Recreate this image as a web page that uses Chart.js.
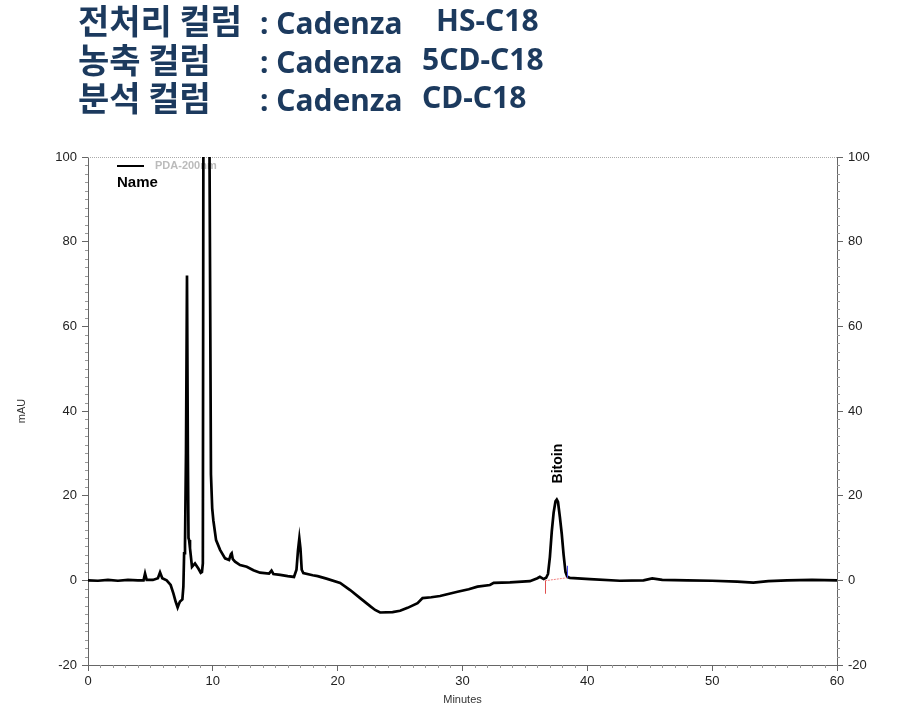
<!DOCTYPE html>
<html>
<head>
<meta charset="utf-8">
<script src="https://cdn.jsdelivr.net/npm/chart.js@4"></script>
<style>
html, body { margin: 0; padding: 0; background: #fff; }
#wrap { position: relative; width: 899px; height: 716px; }
#chart { position: absolute; left: 0; top: 0; }
.line { position: absolute; left: 78px; white-space: nowrap; color: #1c3a5e; font-weight: 700;
        font-family: "Noto Sans"; font-size: 30px; line-height: 40px; height: 40px; }
.ko { display: inline-block; width: 182px; font-family: "Noto Sans CJK KR"; font-size: 34px; }
.w2 { display: inline-block; position: absolute; }
</style>
</head>
<body>
<div id="wrap">
  <canvas id="chart" width="899" height="716"></canvas>
  <div class="line" style="top:0px"><span class="ko">전처리 컬럼</span>: Cadenza<span class="w2" style="left:358px">HS-C18</span></div>
  <div class="line" style="top:39px"><span class="ko">농축 컬럼</span>: Cadenza<span class="w2" style="left:344px">5CD-C18</span></div>
  <div class="line" style="top:77px"><span class="ko">분석 컬럼</span>: Cadenza<span class="w2" style="left:344px">CD-C18</span></div>
</div>
<script>
// chromatogram trace (minutes, mAU)
var minutes = [0, 0.8, 1.6, 2.4, 3.2, 4.0, 4.45, 4.57, 4.7, 5.2, 5.6, 5.77, 5.95, 6.3, 6.62, 6.84, 7.02, 7.18, 7.28, 7.37,
  7.56, 7.64, 7.7, 7.77, 7.85, 7.93, 8.0, 8.05, 8.1, 8.17, 8.33, 8.57, 8.84, 9.03, 9.13, 9.2, 9.25, 9.5, 9.72,
  9.85, 9.95, 10.04, 10.26, 10.58, 10.98, 11.3, 11.45, 11.51, 11.6, 11.78, 12.18, 12.72, 13.25, 13.78, 14.5, 14.7, 14.85, 15.4, 16.0,
  16.5, 16.7, 16.82, 16.93, 17.02, 17.12, 17.25, 18.0, 18.4, 19.1, 20.2, 21.0, 21.8, 22.6, 23.0, 23.4, 24.4, 25.0, 25.6, 26.4,
  26.8, 27.5, 28.2, 29.6, 30.5, 31.2, 32.2, 32.5, 33.8, 35.4, 36.0, 36.2, 36.5, 36.7, 36.85, 37.0, 37.15, 37.3, 37.45, 37.55, 37.65,
  37.8, 37.95, 38.1, 38.25, 38.4, 38.6, 40.2, 42.6, 44.5, 45.2, 46, 48, 50, 52, 53.3, 54.5, 56, 58, 60];
var mAU = [0, -0.1, 0.1, -0.1, 0.1, 0, 0, 1.6, 0.1, 0.1, 0.5, 1.9, 0.5, 0, -1.1, -3.1, -5.0, -6.4, -5.6, -5.0,
  -4.5, -1.5, 6.4, 8.3, 30, 72, 30, 10, 9.5, 7.6, 3.2, 4.0, 2.8, 1.8, 2.0, 4, 120, 400, 110,
  25, 17, 14.2, 9.5, 7.2, 5.2, 4.8, 6.2, 6.4, 5, 4.4, 3.6, 3.2, 2.4, 1.8, 1.6, 2.3, 1.5, 1.3, 1.0,
  0.8, 2.5, 7, 9.9, 7.5, 2.5, 1.7, 1.2, 1.0, 0.4, -0.6, -2.3, -4.2, -6.1, -7.0, -7.6, -7.5, -7.2, -6.5, -5.4,
  -4.2, -4.0, -3.7, -2.7, -2.1, -1.5, -1.1, -0.6, -0.5, -0.2, 0.5, 0.85, 0.3, 0.6, 1.5, 5.5, 11.5, 16, 18.7, 19.1, 18.5,
  15, 11, 6, 2, 0.8, 0.6, 0.3, -0.1, 0.0, 0.45, 0.1, 0.0, -0.1, -0.3, -0.55, -0.2, 0, 0.1, 0.0];

var seriesName = 'PDA-200nm';
var legendTitle = 'Name';

// identified peak
var peakNames = ['Bitoin'];
var peakApexMin = [37.55];
var peakApexAU = [19.1];
var peakStartMin = [36.6];
var peakStartAU = [-0.1];
var peakEndMin = [38.35];
var peakEndAU = [0.6];

var xMin = 0, xMax = 60, xStep = 10, xMinorStep = 1;
var yMin = -20, yMax = 100, yStep = 20, yMinorStep = 2;

var tickFont = { family: 'Arial', size: 13 };

var decor = {
  id: 'decor',
  beforeDatasetsDraw: function (chart) {
    var ctx = chart.ctx, a = chart.chartArea;
    var xs = chart.scales.x, ys = chart.scales.y;
    ctx.save();
    // dotted top frame
    ctx.strokeStyle = '#aaa';
    ctx.lineWidth = 1;
    ctx.setLineDash([1, 1]);
    ctx.beginPath();
    ctx.moveTo(a.left, a.top + 0.5);
    ctx.lineTo(a.right, a.top + 0.5);
    ctx.stroke();
    ctx.setLineDash([]);

    // minor ticks
    ctx.strokeStyle = '#999';
    ctx.beginPath();
    for (var v = yMin; v <= yMax; v += yMinorStep) {
      if (v % yStep === 0) continue;
      var py = Math.round(ys.getPixelForValue(v)) + 0.5;
      ctx.moveTo(a.left - 3, py); ctx.lineTo(a.left, py);
      ctx.moveTo(a.right, py); ctx.lineTo(a.right + 3, py);
    }
    for (var t = xMin; t <= xMax; t += xMinorStep) {
      if (t % xStep === 0) continue;
      var px = Math.round(xs.getPixelForValue(t)) + 0.5;
      ctx.moveTo(px, a.bottom); ctx.lineTo(px, a.bottom + 3);
    }
    ctx.stroke();

    // legend
    ctx.strokeStyle = '#000';
    ctx.lineWidth = 2;
    ctx.beginPath();
    ctx.moveTo(a.left + 29, a.top + 9);
    ctx.lineTo(a.left + 56, a.top + 9);
    ctx.stroke();
    ctx.textBaseline = 'middle';
    ctx.textAlign = 'left';
    ctx.fillStyle = '#bbb';
    ctx.font = 'bold 11px Arial';
    ctx.fillText(seriesName, a.left + 67, a.top + 9);
    ctx.fillStyle = '#000';
    ctx.font = 'bold 15px Arial';
    ctx.fillText(legendTitle, a.left + 29, a.top + 26);
    ctx.restore();
  },
  afterDatasetsDraw: function (chart) {
    var ctx = chart.ctx;
    var xs = chart.scales.x, ys = chart.scales.y;
    ctx.save();
    for (var i = 0; i < peakNames.length; i++) {
      var x0 = xs.getPixelForValue(peakStartMin[i]), y0 = ys.getPixelForValue(peakStartAU[i]);
      var x1 = xs.getPixelForValue(peakEndMin[i]), y1 = ys.getPixelForValue(peakEndAU[i]);
      ctx.lineWidth = 1;
      ctx.strokeStyle = '#f08080';
      ctx.setLineDash([2, 1]);
      ctx.beginPath();
      ctx.moveTo(x0, y0); ctx.lineTo(x1, y1);
      ctx.stroke();
      ctx.setLineDash([]);
      ctx.strokeStyle = '#e05050';
      ctx.beginPath();
      ctx.moveTo(Math.round(x0) + 0.5, y0); ctx.lineTo(Math.round(x0) + 0.5, y0 + 13);
      ctx.stroke();
      ctx.strokeStyle = '#4a4af0';
      ctx.beginPath();
      ctx.moveTo(Math.round(x1) + 0.5, y1); ctx.lineTo(Math.round(x1) + 0.5, y1 - 12);
      ctx.stroke();

      var ax = xs.getPixelForValue(peakApexMin[i]), ay = ys.getPixelForValue(peakApexAU[i]);
      ctx.translate(ax + 1, ay - 16);
      ctx.rotate(-Math.PI / 2);
      ctx.fillStyle = '#000';
      ctx.font = 'bold 14px Arial';
      ctx.textAlign = 'left';
      ctx.textBaseline = 'middle';
      ctx.fillText(peakNames[i], 0, 0);
      ctx.setTransform(1, 0, 0, 1, 0, 0);
    }
    ctx.restore();
  }
};

var axisGrid = { display: true, drawOnChartArea: false, drawTicks: true, tickLength: 6, tickColor: '#666', tickWidth: 1 };
var axisBorder = { display: true, color: '#666', width: 1 };

new Chart(document.getElementById('chart'), {
  type: 'line',
  data: {
    datasets: [{
      label: seriesName,
      data: minutes.map(function (t, i) { return { x: t, y: mAU[i] }; }),
      borderColor: '#000',
      borderWidth: 2.7,
      pointRadius: 0,
      tension: 0,
      fill: false,
      clip: { left: 1, right: 1, top: 0, bottom: 1 }
    }]
  },
  options: {
    responsive: false,
    animation: false,
    layout: { padding: { top: 157, left: 0, right: 0, bottom: 0 } },
    plugins: { legend: { display: false }, tooltip: { enabled: false } },
    scales: {
      x: {
        type: 'linear', min: xMin, max: xMax,
        ticks: { stepSize: xStep, font: tickFont, color: '#222', padding: 3, maxRotation: 0 },
        grid: axisGrid, border: axisBorder,
        title: { display: true, text: 'Minutes', font: { family: 'Arial', size: 11 }, color: '#333', padding: { top: 0, bottom: 9 } },
        afterFit: function (s) { s.height = 51; }
      },
      y: {
        position: 'left', min: yMin, max: yMax,
        ticks: { stepSize: yStep, font: tickFont, color: '#222', padding: 5 },
        grid: axisGrid, border: axisBorder,
        title: { display: true, text: 'mAU', font: { family: 'Arial', size: 11 }, color: '#333', padding: { top: 15, bottom: 0 } },
        afterFit: function (s) { s.width = 88; }
      },
      y2: {
        position: 'right', min: yMin, max: yMax,
        ticks: { stepSize: yStep, font: tickFont, color: '#222', padding: 5 },
        grid: axisGrid, border: axisBorder,
        afterFit: function (s) { s.width = 62; }
      }
    }
  },
  plugins: [decor]
});
</script>
</body>
</html>
